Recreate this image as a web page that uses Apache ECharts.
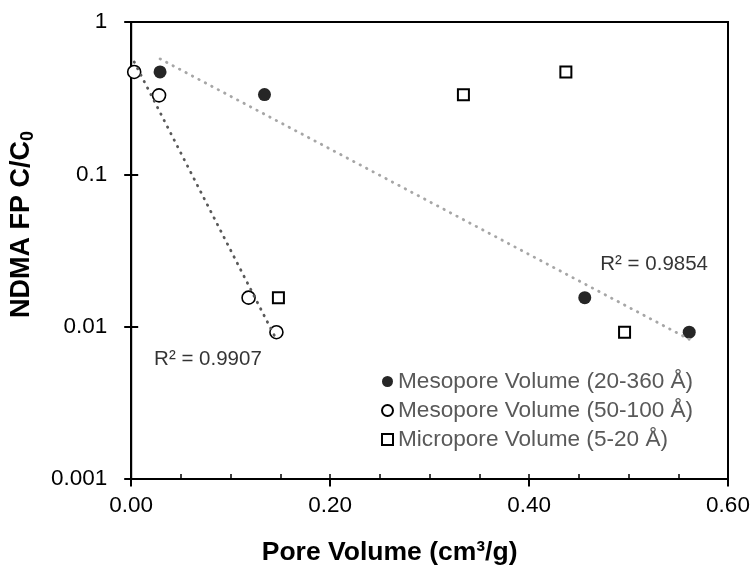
<!DOCTYPE html>
<html><head><meta charset="utf-8">
<script src="https://cdn.jsdelivr.net/npm/echarts@6/dist/echarts.min.js"></script>
<style>html,body{margin:0;padding:0;background:#fff}#c{width:754px;height:575px}</style>
</head><body><div id="c"></div>
<script>
// ---- data ----
const seriesNames = ['Mesopore Volume (20-360 Å)', 'Mesopore Volume (50-100 Å)', 'Micropore Volume (5-20 Å)'];
const meso20X = [0.029, 0.134, 0.456, 0.561];
const meso20Y = [0.47, 0.334, 0.0155, 0.0092];
const meso50X = [0.003, 0.028, 0.118, 0.146];
const meso50Y = [0.47, 0.33, 0.0155, 0.0092];
const microX = [0.437, 0.334, 0.148, 0.496];
const microY = [0.47, 0.333, 0.0155, 0.0092];
const xTickLabels = ['0.00', '0.20', '0.40', '0.60'];
const yTickLabels = ['0.001', '0.01', '0.1', '1'];
const r2Texts = ['R² = 0.9907', 'R² = 0.9854'];

// ---- helpers ----
const FONT = 'Liberation Sans, Arial, sans-serif';
function pairs(xs, ys) { return xs.map((x, i) => [x, ys[i]]); }
function expFit(xs, ys) {
  const n = xs.length, ly = ys.map(Math.log);
  const mx = xs.reduce((a, b) => a + b, 0) / n, my = ly.reduce((a, b) => a + b, 0) / n;
  let sxy = 0, sxx = 0;
  for (let i = 0; i < n; i++) { sxy += (xs[i] - mx) * (ly[i] - my); sxx += (xs[i] - mx) ** 2; }
  const b = sxy / sxx, a = my - b * mx;
  const x0 = Math.min(...xs), x1 = Math.max(...xs);
  return [[x0, Math.exp(a + b * x0)], [x1, Math.exp(a + b * x1)]];
}
// annotation anchors (data coordinates) for the R² labels
const r2Anchors = [[0.023, 0.0061], [0.4716, 0.0255]];

const chart = echarts.init(document.getElementById('c'), null, { renderer: 'canvas' });
const yBase = { type: 'log', logBase: 10, min: 0.001, max: 1, splitLine: { show: false } };
const xBase = { type: 'value', min: 0, max: 0.6, interval: 0.2, splitLine: { show: false } };
chart.setOption({
  animation: false,
  backgroundColor: '#fff',
  grid: { left: 130, right: 26, top: 22, bottom: 96, show: true, borderColor: '#000', borderWidth: 2, backgroundColor: 'transparent' },
  xAxis: [
    Object.assign({}, xBase, {
      position: 'bottom',
      axisLine: { show: true, lineStyle: { color: '#000', width: 2 } },
      axisTick: { show: true, length: 7.5, lineStyle: { color: '#000', width: 2 } },
      minorTick: { show: false },
      axisLabel: { margin: 15, color: '#000', fontFamily: FONT, fontSize: 22.5,
        formatter: v => xTickLabels[Math.round(v / 0.2)] },
      name: 'Pore Volume (cm³/g)', nameLocation: 'middle', nameGap: 60,
      nameTextStyle: { fontFamily: FONT, fontWeight: 'bold', fontSize: 26.5, color: '#000', padding: [0, 80, 0, 0] }
    }),
    Object.assign({}, xBase, {
      position: 'bottom',
      axisLine: { show: false },
      axisTick: { show: true, inside: true, length: 5, lineStyle: { color: '#000', width: 1.5 } },
      minorTick: { show: true, splitNumber: 4, length: 5, lineStyle: { color: '#000', width: 1.5 } },
      axisLabel: { show: false }
    })
  ],
  yAxis: [
    Object.assign({}, yBase, {
      position: 'left',
      axisLine: { show: true, lineStyle: { color: '#000', width: 2 } },
      axisTick: { show: true, length: 7, lineStyle: { color: '#000', width: 2 } },
      axisLabel: { margin: 24, color: '#000', fontFamily: FONT, fontSize: 22.5,
        formatter: v => yTickLabels[Math.round(Math.log10(v)) + 3] },
      name: '{m|NDMA FP C/C}{s|0}', nameLocation: 'middle', nameGap: 82,
      nameTextStyle: { color: '#000', padding: [0, 0, 0, 52],
        rich: {
          m: { fontFamily: FONT, fontWeight: 'bold', fontSize: 27, lineHeight: 27, padding: [0, 0, 5, 0], color: '#000' },
          s: { fontFamily: FONT, fontWeight: 'bold', fontSize: 18, lineHeight: 18, verticalAlign: 'bottom', color: '#000' }
        } }
    }),
    Object.assign({}, yBase, {
      position: 'left',
      axisLine: { show: false },
      axisTick: { show: true, inside: true, length: 7, lineStyle: { color: '#000', width: 2 } },
      axisLabel: { show: false }
    })
  ],
  legend: {
    orient: 'vertical', left: 381, top: 370, padding: 0, itemGap: 6,
    itemWidth: 11, itemHeight: 11,
    textStyle: { fontFamily: FONT, fontSize: 22.6, color: '#595959' },
    data: seriesNames
  },
  series: [
    { name: seriesNames[0], type: 'scatter', symbol: 'circle', symbolSize: 13, z: 3,
      itemStyle: { color: '#262626', borderColor: '#262626', borderWidth: 0, opacity: 1 },
      data: pairs(meso20X, meso20Y) },
    { name: seriesNames[1], type: 'scatter', symbol: 'circle', symbolSize: 13, z: 3,
      itemStyle: { color: '#fff', borderColor: '#000', borderWidth: 1.6, opacity: 1 },
      data: pairs(meso50X, meso50Y) },
    { name: seriesNames[2], type: 'scatter', symbol: 'rect', symbolSize: 11, z: 3,
      itemStyle: { color: '#fff', borderColor: '#000', borderWidth: 2, opacity: 1 },
      data: pairs(microX, microY) },
    { name: 'trend1', type: 'line', symbol: 'none', z: 4, silent: true,
      lineStyle: { color: '#A6A6A6', width: 2.8, type: [0.5, 6.8], cap: 'round' },
      data: expFit(meso20X, meso20Y) },
    { name: 'trend2', type: 'line', symbol: 'none', z: 4, silent: true,
      lineStyle: { color: '#595959', width: 2.8, type: [0.5, 6.8], cap: 'round' },
      data: expFit(meso50X, meso50Y) },
    { name: 'r2', type: 'scatter', symbolSize: 0, silent: true, z: 5,
      label: { show: true, position: 'right', distance: 0, color: '#000', fontFamily: FONT, fontSize: 20.5,
        formatter: p => r2Texts[p.dataIndex] },
      data: r2Anchors }
  ]
});
</script></body></html>
